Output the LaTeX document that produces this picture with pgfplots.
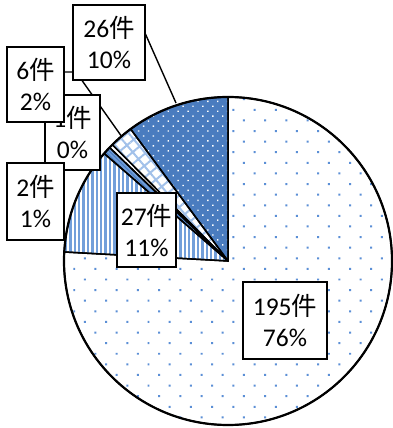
\documentclass[border=0pt]{standalone}
\usepackage{pgfplots}
\usepackage{pgfplotstable}
\pgfplotsset{compat=1.18}
\usetikzlibrary{patterns.meta}
\usepackage{fontspec}
\setmainfont{Carlito}
\newfontfamily\jp{Noto Sans CJK JP}
\definecolor{dotblue}{HTML}{5B8FD6}
\definecolor{darkblue}{HTML}{4A7CBF}
\definecolor{stripeblue}{HTML}{729FDA}
\definecolor{hatchblue}{HTML}{A2C1EA}
\newcommand\labfont{\fontsize{25.5}{31}\selectfont}
\pgfplotstableread{
count
195
27
2
1
6
26
}\piedata
\begin{document}
\begin{tikzpicture}
\pgfmathsetmacro\total{0}
\foreach \i in {0,...,5}{%
  \pgfplotstablegetelem{\i}{count}\of\piedata
  \pgfmathsetmacro\t{\total+\pgfplotsretval}%
  \global\let\total\t}
\gdef\cum{0}
\foreach \i in {0,...,5}{%
  \pgfplotstablegetelem{\i}{count}\of\piedata
  \pgfmathsetmacro\s{90-360*(\cum/\total)}%
  \pgfmathsetmacro\c{\cum+\pgfplotsretval}%
  \pgfmathsetmacro\e{90-360*(\c/\total)}%
  \expandafter\xdef\csname sa\i\endcsname{\s}%
  \expandafter\xdef\csname ea\i\endcsname{\e}%
  \global\let\cum\c}
\newcommand\slicepath[1]{(axis cs:228,167) -- ++(\csname sa#1\endcsname:164pt) arc[start angle=\csname sa#1\endcsname, end angle=\csname ea#1\endcsname, radius=164pt] -- cycle}
\begin{axis}[x=1pt,y=1pt,xmin=0,xmax=392,ymin=0,ymax=428,hide axis,clip=false,
  scale only axis,anchor=south west,at={(0,0)}]
% 195
\fill[white] \slicepath{0};
\fill[pattern={Dots[angle=45,distance=15pt,radius=1.4pt]},pattern color=dotblue] \slicepath{0};
% 27
\fill[white] \slicepath{1};
\fill[pattern={Lines[angle=90,distance=4.4pt,line width=2.3pt]},pattern color=stripeblue] \slicepath{1};
% 2
\fill[stripeblue] \slicepath{2};
\fill[pattern={Lines[angle=135,distance=3pt,line width=1pt]},pattern color=darkblue] \slicepath{2};
% 1
\fill[white] \slicepath{3};
% 6
\fill[white] \slicepath{4};
\fill[pattern={Hatch[angle=40,distance=9pt,line width=2pt]},pattern color=hatchblue] \slicepath{4};
% 26
\fill[darkblue] \slicepath{5};
\fill[pattern={Dots[angle=45,distance=7pt,radius=1pt]},pattern color=white] \slicepath{5};
% borders
\draw[line width=1.5pt,line join=round] \slicepath{0};
\draw[line width=1.5pt,line join=round] \slicepath{1};
\draw[line width=1.5pt,line join=round] \slicepath{2};
\draw[line width=1.5pt,line join=round] \slicepath{3};
\draw[line width=1.5pt,line join=round] \slicepath{4};
\draw[line width=1.5pt,line join=round] \slicepath{5};
\draw[line width=2.2pt] (axis cs:228,167) circle[radius=164pt];
% leader lines
\draw[line width=1.4pt] (axis cs:145,395) -- (axis cs:176,325);
\draw[line width=1.4pt] (axis cs:64,356) -- (axis cs:76,356) -- (axis cs:122,291);
% labels
\tikzset{lab/.style={draw=black,line width=1.4pt,fill=white,align=center,inner sep=0pt,font=\labfont}}
\node[lab,minimum width=55pt,minimum height=75pt] at (axis cs:72.5,295.5) {1{\jp 件}\\0\%};
\node[lab,minimum width=57pt,minimum height=75pt] at (axis cs:35.5,343.5) {6{\jp 件}\\2\%};
\node[lab,minimum width=57pt,minimum height=77pt] at (axis cs:35.5,226.5) {2{\jp 件}\\1\%};
\node[lab,minimum width=72pt,minimum height=75pt] at (axis cs:109,385.5) {26{\jp 件}\\10\%};
\node[lab,minimum width=59pt,minimum height=74pt] at (axis cs:146.5,198) {27{\jp 件}\\11\%};
\node[lab,minimum width=84pt,minimum height=77pt] at (axis cs:285,107.5) {195{\jp 件}\\76\%};
\end{axis}
\pgfresetboundingbox
\useasboundingbox (0,0) rectangle (392pt,428pt);
\end{tikzpicture}
\end{document}
